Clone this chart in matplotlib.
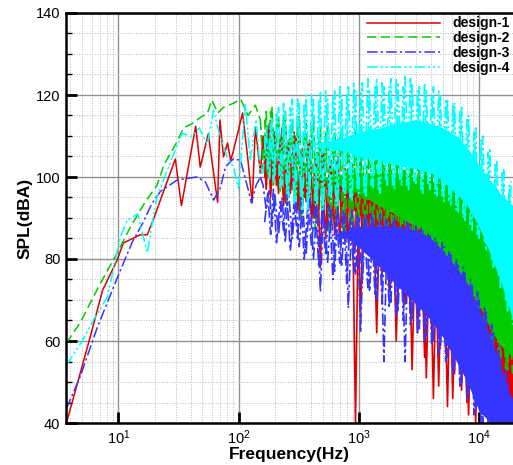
import numpy as np
import matplotlib.pyplot as plt

plt.rcParams['font.family'] = ['Liberation Sans', 'DejaVu Sans']
plt.rcParams['mathtext.default'] = 'regular'

# ---- low frequency part (resolved lines) ----
f1_low = [3.7, 5.8, 7.4, 9.8, 11.0, 15.2, 17.4, 19.5, 22.4, 29.8, 33.5, 44, 48, 56, 67,
          70, 75, 81, 86, 91, 108, 119, 130, 138, 152]
spl1_low = [40, 60.7, 72.4, 79.8, 83.9, 85.9, 85.9, 89.5, 94.4, 104.4, 93.0, 112.4, 102.4,
            110.5, 93.8, 113.9, 104.9, 108.3, 104, 106.6, 115.6, 104.9, 93.7, 112.2, 101]

f2_low = [3.7, 4.8, 7.1, 9.8, 12.6, 16.8, 21, 24, 30, 35, 41, 48, 55, 60, 67, 75, 91,
          104, 120, 138, 152]
spl2_low = [59.5, 64.4, 74.1, 81.5, 87.8, 94, 98, 103, 108, 112, 113, 114.5, 115.5, 118.8,
            115.6, 117, 118, 119, 115, 117.5, 113.9]

f3_low = [3.7, 4.8, 6.7, 9.8, 13, 16, 19, 22.4, 31, 45, 53, 62, 70, 78, 91, 104, 119,
          128, 140, 152]
spl3_low = [43.5, 51.2, 63.4, 75.4, 84, 88.8, 93.5, 96.5, 99.3, 100, 98.8, 94.4, 97,
            102.5, 104.5, 104, 97.5, 93.7, 98, 100]

f4_low = [3.7, 5.0, 6.2, 8.1, 10.4, 11.9, 14.5, 17.4, 19.5, 21, 25.6, 29.8, 34, 40, 47,
          55, 62, 70, 80, 91, 100, 114, 125, 140, 152]
spl4_low = [54.1, 60, 65.1, 70.7, 85.4, 89.5, 91, 81.5, 90, 95.1, 101.7, 106.6, 110.7,
            109.8, 112, 108, 116.3, 110, 105, 102.4, 97, 118, 104, 114, 101]

# ---- high frequency part (noisy spectra, spikes), two interleaved sample sets ----
f_band = [160, 170, 180, 190, 200, 215, 230, 245, 260, 280, 300, 320, 340, 365, 390,
          420, 450, 480, 510, 550, 590, 630, 670, 720, 770, 820, 880, 940, 1000, 1070,
          1150, 1230, 1320, 1410, 1510, 1620, 1730, 1850, 1980, 2120, 2270, 2430, 2600,
          2780, 2980, 3190, 3410, 3650, 3900, 4180, 4470, 4780, 5110, 5470, 5850, 6260,
          6700, 7170, 7670, 8200, 8780, 9390, 10050, 10750, 11500, 12300, 13200, 14100,
          15100, 16100, 17300, 18500]
f_band2 = [165, 175, 185, 195, 207, 222, 237, 252, 270, 290, 310, 330, 352, 377, 405,
           435, 465, 495, 530, 570, 610, 650, 695, 745, 795, 850, 910, 970, 1035, 1110,
           1190, 1275, 1365, 1460, 1565, 1675, 1790, 1915, 2050, 2195, 2350, 2515, 2690,
           2880, 3085, 3300, 3530, 3775, 4040, 4325, 4625, 4945, 5290, 5660, 6055, 6480,
           6935, 7420, 7935, 8490, 9085, 9720, 10400, 11125, 11900, 12750, 13650, 14600,
           15600, 16700, 17900, 19000]

spl1_band = [110, 97, 113, 99, 111, 96, 112, 94, 109, 97, 110, 91, 107, 94, 109, 90, 106,
             78, 107, 88, 104, 86, 105, 89, 102, 84, 101, 40, 99, 86, 98, 81, 96, 62, 97,
             77, 94, 74, 95, 72, 92, 69, 91, 53, 90, 66, 88, 51, 87, 46, 86, 59, 84, 44,
             83, 52, 80, 48, 79, 42, 76, 40, 73, 46, 70, 45, 67, 44, 63, 45, 59, 44]
spl1_band2 = [100, 111, 95, 108, 98, 110, 93, 107, 96, 111, 92, 106, 95, 108, 89, 105, 92,
              106, 85, 103, 90, 104, 84, 101, 87, 100, 83, 98, 67, 99, 82, 95, 79, 96, 76,
              93, 72, 94, 60, 91, 71, 90, 67, 89, 62, 87, 56, 86, 63, 85, 49, 84, 57, 82,
              46, 80, 54, 78, 45, 76, 48, 74, 43, 71, 47, 68, 45, 64, 46, 60, 45, 57]
spl2_band = [102, 116, 99, 117, 101, 115, 97, 116, 95, 114, 93, 115, 91, 113, 94, 114, 89,
             112, 91, 113, 88, 111, 90, 112, 87, 110, 86, 111, 88, 109, 84, 110, 85, 108,
             83, 109, 82, 107, 81, 108, 80, 106, 79, 107, 78, 105, 77, 104, 75, 103, 73,
             101, 71, 100, 69, 98, 66, 96, 64, 94, 62, 92, 60, 89, 58, 85, 57, 81, 55, 77,
             53, 72]
spl2_band2 = [114, 100, 116, 98, 113, 96, 115, 93, 112, 95, 113, 90, 111, 92, 112, 87, 110,
              90, 111, 86, 109, 89, 110, 85, 108, 87, 109, 84, 107, 86, 108, 83, 106, 84,
              107, 81, 105, 82, 106, 79, 104, 80, 105, 77, 103, 76, 102, 74, 101, 72, 100,
              70, 98, 68, 97, 65, 95, 63, 93, 61, 90, 59, 87, 57, 84, 56, 80, 54, 76, 53,
              71, 52]
spl3_band = [98, 92, 97, 88, 96, 86, 95, 84, 97, 85, 95, 83, 94, 81, 96, 80, 93, 72, 94,
             79, 92, 77, 93, 78, 91, 68, 92, 76, 90, 74, 91, 72, 90, 70, 91, 55, 89, 69,
             90, 67, 88, 55, 89, 65, 88, 63, 87, 61, 86, 60, 84, 58, 83, 56, 81, 53, 79,
             50, 77, 47, 74, 43, 70, 40, 67, 40, 62, 40, 56, 40, 50, 40]
spl3_band2 = [89, 96, 86, 97, 84, 94, 87, 96, 82, 94, 85, 95, 80, 93, 83, 94, 78, 92, 81,
              93, 75, 91, 79, 92, 74, 90, 77, 91, 62, 90, 73, 91, 71, 89, 69, 90, 68, 89,
              66, 88, 65, 89, 64, 87, 62, 88, 60, 86, 59, 85, 57, 84, 55, 82, 52, 80, 49,
              78, 46, 75, 42, 72, 40, 68, 40, 64, 40, 59, 40, 53, 40, 47]
spl4_band = [101, 112, 99, 114, 100, 117, 98, 116, 95, 119, 94, 118, 92, 120, 95, 119, 93,
             121, 92, 119, 94, 121, 93, 120, 95, 122, 94, 121, 96, 123, 95, 121, 97, 124,
             96, 122, 98, 124, 97, 123, 98, 125, 97, 123, 98, 122, 96, 121, 97, 122, 95,
             120, 94, 119, 93, 118, 91, 117, 89, 115, 87, 112, 85, 110, 82, 107, 78, 104,
             73, 102, 67, 99]
spl4_band2 = [110, 102, 113, 99, 116, 97, 118, 96, 117, 93, 119, 95, 118, 91, 120, 94, 119,
              92, 121, 95, 120, 93, 122, 96, 120, 95, 123, 97, 121, 96, 124, 98, 122, 97,
              123, 99, 122, 98, 124, 99, 122, 98, 124, 99, 121, 97, 123, 98, 120, 96, 121,
              95, 119, 94, 118, 92, 116, 90, 114, 88, 111, 86, 109, 84, 106, 80, 103, 76,
              101, 70, 98, 64]

# ---- dense core of the noisy spectra ----
f_core = [400, 600, 800, 1000, 1500, 2000, 3000, 4000, 5000, 6500, 8000, 10000, 12500,
          15000, 19200]
core1_hi = [100, 99, 98, 96, 93, 91, 88, 85, 82, 78, 74, 69, 64, 60, 56]
core1_lo = [100, 96, 93, 91, 86, 83, 78, 74, 70, 64, 59, 53, 49, 46, 44]
core2_hi = [100, 100, 101, 101, 101, 101, 100, 99, 98, 96, 93, 89, 83, 76, 67]
core2_lo = [100, 99, 97, 96, 93, 91, 88, 85, 82, 78, 74, 69, 63, 59, 56]
core3_hi = [86, 86, 87, 88, 88, 88, 87, 85, 82, 78, 74, 68, 61, 54, 45]
core3_lo = [86, 86, 85, 83, 78, 74, 69, 65, 61, 55, 50, 43, 40, 40, 40]
core4_hi = [108, 109, 110, 111, 112, 113, 114, 113, 112, 110, 107, 103, 99, 96, 93]
core4_lo = [108, 107, 106, 105, 104, 103, 102, 101, 99, 96, 93, 88, 81, 75, 65]

labels = ['design-1', 'design-2', 'design-3', 'design-4']
colors = ['#e00000', '#00cc00', '#3535ff', '#00ffff']
styles = ['-', (0, (6, 3)), (0, (7, 2, 1.5, 2)), (0, (7, 2, 1.5, 1.5, 1.5, 2))]

lows = [(f1_low, spl1_low), (f2_low, spl2_low), (f3_low, spl3_low), (f4_low, spl4_low)]
bands = [spl1_band, spl2_band, spl3_band, spl4_band]
bands2 = [spl1_band2, spl2_band2, spl3_band2, spl4_band2]
cores = [(core1_lo, core1_hi), (core2_lo, core2_hi), (core3_lo, core3_hi), (core4_lo, core4_hi)]

fig = plt.figure(figsize=(5.13, 4.65), dpi=100)
ax = fig.add_axes([66 / 513, 42 / 465, 447 / 513, 410 / 465])

for i in range(4):
    z = 2 + 0.1 * i
    ax.fill_between(f_core, cores[i][0], cores[i][1], color=colors[i], lw=0, zorder=z)
    ax.plot(lows[i][0], lows[i][1], color=colors[i], ls=styles[i], lw=1.1,
            label=labels[i], zorder=z)
    ax.plot([lows[i][0][-1]] + f_band, [lows[i][1][-1]] + bands[i], color=colors[i],
            ls=styles[i], lw=1.2, zorder=z)
    ax.plot(f_band2, bands2[i], color=colors[i], ls=styles[i], lw=1.2, zorder=z)

ax.set_xscale('log')
ax.set_xlim(3.67, 19200)
ax.set_ylim(40, 140)
ax.set_yticks(np.arange(40, 141, 20))
ax.set_yticks(np.arange(40, 141, 5), minor=True)

ax.grid(True, which='major', color='#909090', lw=1.0, ls='-')
ax.grid(True, which='minor', color='#b8b8b8', lw=0.7, ls=':')
ax.set_axisbelow(True)

ax.tick_params(which='major', direction='in', length=8, width=2, labelsize=10.5, pad=4)
ax.tick_params(which='minor', direction='in', length=4, width=1)
ax.tick_params(axis='x', which='minor', length=0)
for side in ['left', 'bottom', 'top']:
    ax.spines[side].set_linewidth(1.8)
ax.spines['right'].set_visible(False)

ax.set_xlabel('Frequency(Hz)', fontsize=12.5, fontweight='bold', labelpad=0)
ax.set_ylabel('SPL(dBA)', fontsize=12.5, fontweight='bold', labelpad=2)

leg = ax.legend(loc='upper right', frameon=False, fontsize=10, handlelength=5.2,
                handletextpad=0.9, labelspacing=0.05, borderaxespad=0.0, borderpad=0.25)
for t in leg.get_texts():
    t.set_fontweight('bold')

fig.savefig('out.png', dpi=100)
